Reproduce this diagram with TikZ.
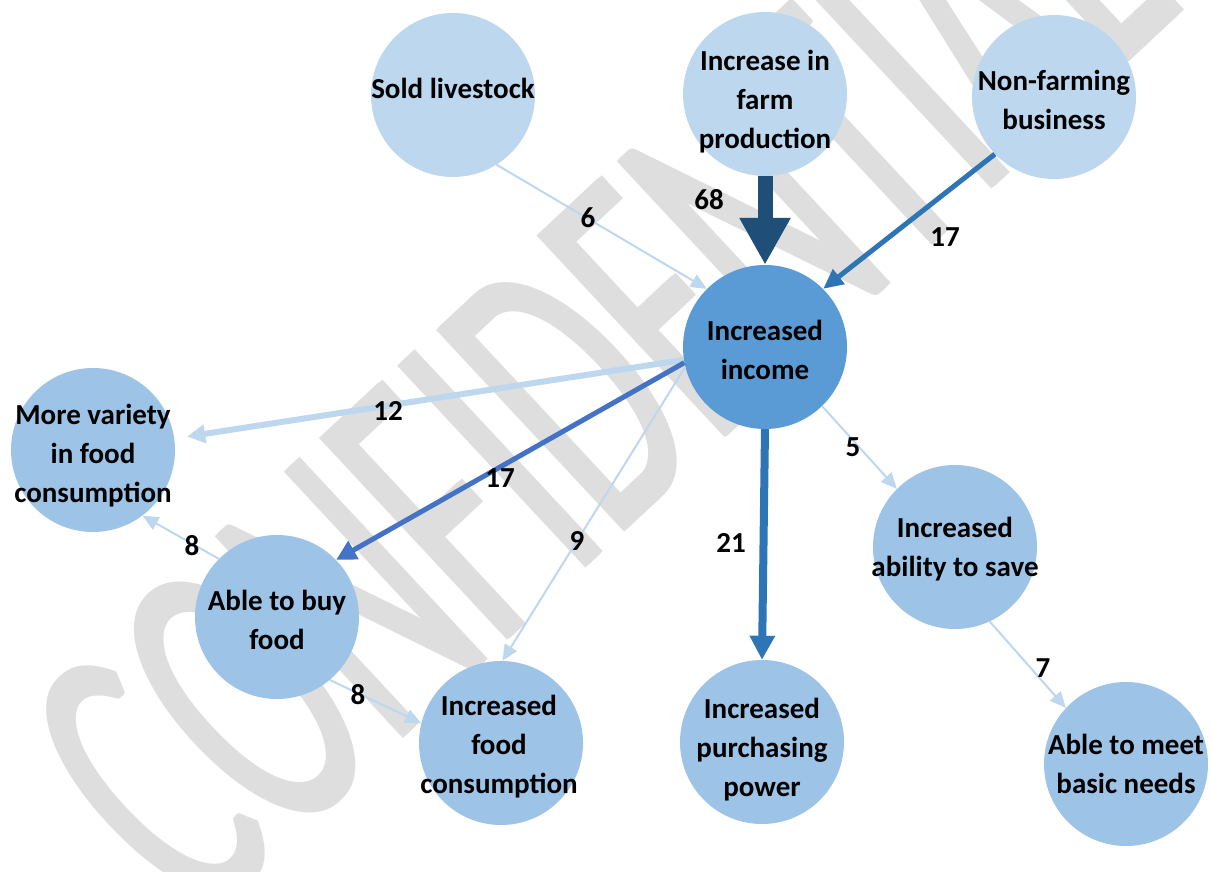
\documentclass[tikz,border=0pt]{standalone}
\usepackage{fontspec}
\setmainfont{Carlito}
\newfontfamily\wmfont{Carlito}
\usetikzlibrary{arrows.meta}

\definecolor{paleblue}{HTML}{BDD7EE}
\definecolor{midblue}{HTML}{9DC3E6}
\definecolor{coreblue}{HTML}{5B9BD5}
\definecolor{navyblue}{HTML}{1F4E79}
\definecolor{strongblue}{HTML}{2E75B6}
\definecolor{royalblue}{HTML}{4472C4}
\definecolor{wmgray}{HTML}{DEDEDE}

\begin{document}
\begin{tikzpicture}[x=1pt,y=-1pt,
  wmark/.style={rotate=43, xscale=0.52, text=wmgray, inner sep=0pt,
                font=\wmfont\fontsize{430}{430}\selectfont},
  bubble/.style={circle, minimum size=164pt, inner sep=0pt, draw=none},
  caption/.style={font=\fontsize{29}{39}\selectfont\bfseries, align=center, inner sep=0pt},
  count/.style={font=\fontsize{29}{39}\selectfont\bfseries, inner sep=0pt},
  thinlink/.style={draw=paleblue, line width=2pt, -{Triangle[length=16pt,width=14pt]}},
  widelink/.style={draw=paleblue, line width=6pt, -{Triangle[length=18pt,width=18pt]}},
  bluelink/.style={draw=strongblue, line width=5pt, -{Triangle[length=20pt,width=18pt]}},
  royallink/.style={draw=royalblue, line width=5pt, -{Triangle[length=20pt,width=20pt]}},
  boldlink/.style={draw=strongblue, line width=8pt, -{Triangle[length=24pt,width=24pt]}},
  heavylink/.style={draw=navyblue, line width=15pt, -{Triangle[length=47pt,width=48pt]}}
]
\useasboundingbox (0,0) rectangle (1212,872);

% watermark behind everything; repeated along its baseline to widen the stems
\foreach \d [count=\k] in {-2.5,0,2.5}
  \node[wmark] (wm\k) at ({598+0.731*\d},{368-0.682*\d}) {CONFIDENTIAL};

% bubbles
\node[bubble, fill=paleblue] (sold) at (453,95) {};
\node[bubble, fill=paleblue] (farm) at (765,94) {};
\node[bubble, fill=paleblue] (nonfarm) at (1054,97) {};
\node[bubble, fill=coreblue] (inc) at (765,347) {};
\node[bubble, fill=midblue] (var) at (93,450) {};
\node[bubble, fill=midblue] (buy) at (277,617) {};
\node[bubble, fill=midblue] (cons) at (501,743) {};
\node[bubble, fill=midblue] (pp) at (762,742) {};
\node[bubble, fill=midblue] (save) at (955,547) {};
\node[bubble, fill=midblue] (needs) at (1126,764) {};

% connectors
\draw[thinlink] (sold.-58) -- (inc.135);
\draw[heavylink] (farm.south) -- (inc.north);
\draw[bluelink] (nonfarm.224) -- (inc.45);
\draw[widelink, shorten >=13pt] (inc.189) -- (var.8);
\draw[royallink] (inc.191) -- (buy.44);
\draw[thinlink] (inc.194) -- (cons.89);
\draw[boldlink] (inc.south) -- (pp.north);
\draw[thinlink] (inc.-46) -- (save.135);
\draw[thinlink] (buy.135) -- (var.-53);
\draw[thinlink] (buy.-50) -- (cons.166);
\draw[thinlink] (save.-65) -- (needs.137);

% counts
\node[count] (n6) at (588,218) {6};
\node[count] (n68) at (709,200) {68};
\node[count] (n17a) at (945,237) {17};
\node[count] (n12) at (388,411) {12};
\node[count] (n17b) at (500,478) {17};
\node[count] (n9) at (577,541) {9};
\node[count] (n21) at (731,543) {21};
\node[count] (n5) at (853,447) {5};
\node[count] (n8a) at (192,546) {8};
\node[count] (n8b) at (358,695) {8};
\node[count] (n7) at (1043,668) {7};

% captions
\node[caption] (sold-t) at (453,88) {Sold livestock};
\node[caption] (farm-t) at (765,102) {Increase in\\farm\\production};
\node[caption] (nonfarm-t) at (1054,100) {Non-farming\\business};
\node[caption] (inc-t) at (765,350) {Increased\\income};
\node[caption] (var-t) at (93,456) {More variety\\in food\\consumption};
\node[caption] (buy-t) at (277,620) {Able to buy\\food};
\node[caption] (cons-t) at (499,747) {Increased\\food\\consumption};
\node[caption] (pp-t) at (762,750) {Increased\\purchasing\\power};
\node[caption] (save-t) at (955,549) {Increased\\ability to save};
\node[caption] (needs-t) at (1126,764) {Able to meet\\basic needs};
\end{tikzpicture}
\end{document}
